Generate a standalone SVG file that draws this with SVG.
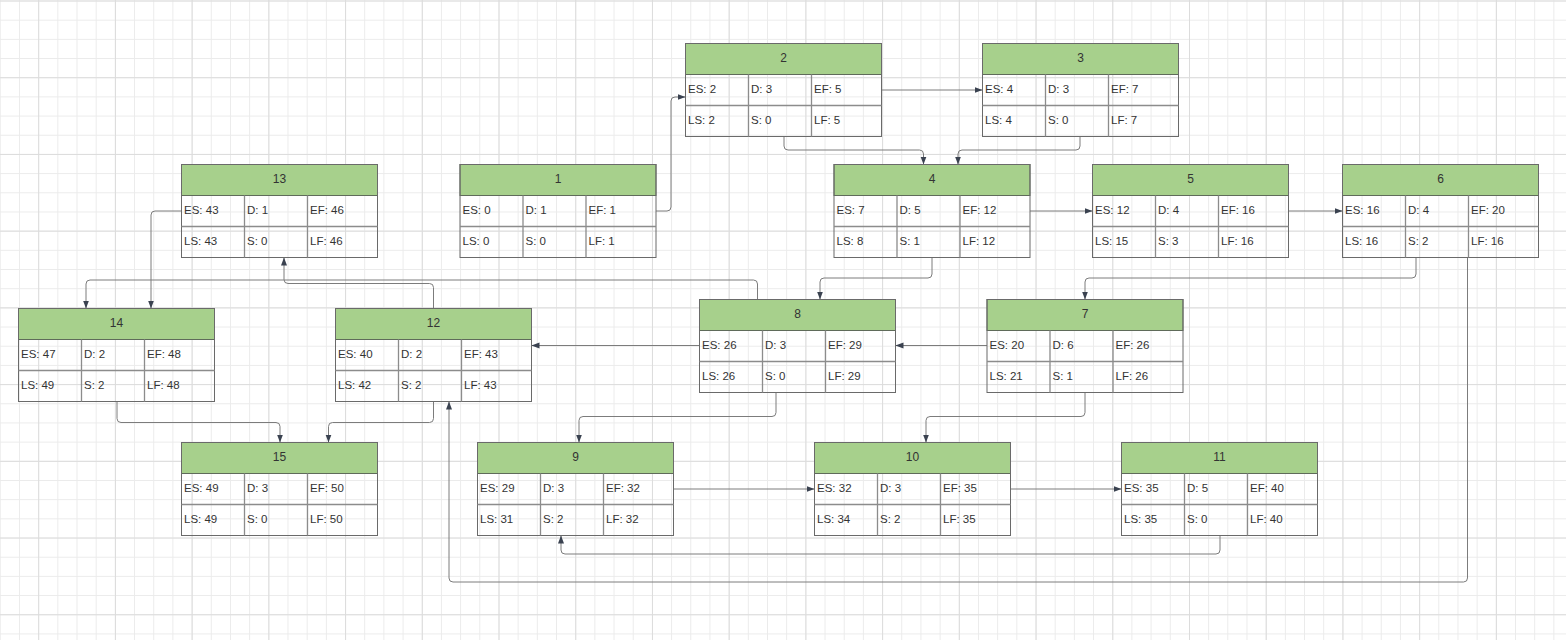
<svg xmlns="http://www.w3.org/2000/svg" width="1566" height="640" viewBox="0 0 1566 640">
<defs>
<pattern id="minor" width="19.18" height="19.18" patternUnits="userSpaceOnUse" x="-0.2" y="0.5">
<path d="M0,0.5 H19.18 M0.5,0 V19.18" fill="none" stroke="#ebebeb" stroke-width="1"/>
</pattern>
<pattern id="major" width="76.72" height="76.72" patternUnits="userSpaceOnUse" x="38.2" y="0.5">
<path d="M0,0.5 H76.72 M0.5,0 V76.72" fill="none" stroke="#dcdcdc" stroke-width="1"/>
</pattern>
<marker id="arr" markerUnits="userSpaceOnUse" markerWidth="8" markerHeight="7" refX="8" refY="3.5" orient="auto">
<path d="M0,0.5 L8,3.5 L0,6.5 z" fill="#3a4250"/>
</marker>
<style>
.hd{fill:#a7d08c;stroke:#5f6b5a;stroke-width:1}
.bd{fill:none;stroke:#6a6a6a;stroke-width:1}
.dv{stroke:#8c8c8c;stroke-width:1.3;fill:none}
.t{font-family:"Liberation Sans",Arial,sans-serif;font-size:11.5px;fill:#333333}
.h{font-family:"Liberation Sans",Arial,sans-serif;font-size:12px;fill:#333333;text-anchor:middle}
.c{fill:none;stroke:#7c7c7c;stroke-width:1}
.ca{fill:none;stroke:#7c7c7c;stroke-width:1;marker-end:url(#arr)}
</style>
</defs>
<rect width="1566" height="640" fill="#ffffff"/>
<rect width="1566" height="640" fill="url(#minor)"/>
<rect width="1566" height="640" fill="url(#major)"/>

<g id="connectors">
<path class="ca" d="M656,211 H667 Q671,211 671,207 V101 Q671,97 675,97 H685.5"/>
<path class="ca" d="M882,90 H982.5"/>
<path class="ca" d="M784,136.5 V146 Q784,150 788,150 H919.5 Q923.5,150 923.5,154 V164.5"/>
<path class="ca" d="M1080,136.5 V146 Q1080,150 1076,150 H962 Q958,150 958,154 V164.5"/>
<path class="ca" d="M1030,211 H1092.5"/>
<path class="ca" d="M1288.5,211 H1342.5"/>
<path class="ca" d="M932,257.5 V274 Q932,278 928,278 H824 Q820,278 820,282 V299.5"/>
<path class="ca" d="M1416,257.5 V274 Q1416,278 1412,278 H1089 Q1085,278 1085,282 V299.5"/>
<path class="ca" d="M1467.5,257.5 V578 Q1467.5,582 1463.5,582 H453 Q449,582 449,578 V401.5"/>
<path class="ca" d="M987,345.5 H895.5"/>
<path class="ca" d="M699.5,345.5 H531.5"/>
<path class="ca" d="M757.5,299.5 V284 Q757.5,280 753.5,280 H90 Q86,280 86,284 V308.5"/>
<path class="ca" d="M433.5,308.5 V287.5 Q433.5,283.5 429.5,283.5 H288 Q284,283.5 284,279.5 V257.5"/>
<path class="ca" d="M181.5,211 H155 Q151,211 151,215 V308.5"/>
<path class="ca" d="M117,401.5 V418.5 Q117,422.5 121,422.5 H276 Q280,422.5 280,426.5 V442.5"/>
<path class="ca" d="M433.5,401.5 V418.5 Q433.5,422.5 429.5,422.5 H332.5 Q328.5,422.5 328.5,426.5 V442.5"/>
<path class="ca" d="M776,392.5 V412.5 Q776,416.5 772,416.5 H583 Q579,416.5 579,420.5 V442.5"/>
<path class="ca" d="M1085,392.5 V412.5 Q1085,416.5 1081,416.5 H930 Q926,416.5 926,420.5 V442.5"/>
<path class="ca" d="M673.5,489 H814.5"/>
<path class="ca" d="M1010.5,489 H1121.5"/>
<path class="ca" d="M1220,535.5 V550 Q1220,554 1216,554 H565 Q561,554 561,550 V535.5"/>
</g>

<g id="node-1" transform="translate(460,164.5)">
<rect class="hd" width="196" height="31"/><rect class="bd" width="196" height="93"/>
<path class="dv" d="M0,62 H196 M63,31 V93 M126,31 V93"/>
<text class="h" x="98" y="18.5">1</text>
<text class="t" x="2.5" y="49.5">ES: 0</text><text class="t" x="65.5" y="49.5">D: 1</text><text class="t" x="128.5" y="49.5">EF: 1</text>
<text class="t" x="2.5" y="80.5">LS: 0</text><text class="t" x="65.5" y="80.5">S: 0</text><text class="t" x="128.5" y="80.5">LF: 1</text>
</g>
<g id="node-2" transform="translate(685.5,43.5)">
<rect class="hd" width="196" height="31"/><rect class="bd" width="196" height="93"/>
<path class="dv" d="M0,62 H196 M63,31 V93 M126,31 V93"/>
<text class="h" x="98" y="18.5">2</text>
<text class="t" x="2.5" y="49.5">ES: 2</text><text class="t" x="65.5" y="49.5">D: 3</text><text class="t" x="128.5" y="49.5">EF: 5</text>
<text class="t" x="2.5" y="80.5">LS: 2</text><text class="t" x="65.5" y="80.5">S: 0</text><text class="t" x="128.5" y="80.5">LF: 5</text>
</g>
<g id="node-3" transform="translate(982.5,43.5)">
<rect class="hd" width="196" height="31"/><rect class="bd" width="196" height="93"/>
<path class="dv" d="M0,62 H196 M63,31 V93 M126,31 V93"/>
<text class="h" x="98" y="18.5">3</text>
<text class="t" x="2.5" y="49.5">ES: 4</text><text class="t" x="65.5" y="49.5">D: 3</text><text class="t" x="128.5" y="49.5">EF: 7</text>
<text class="t" x="2.5" y="80.5">LS: 4</text><text class="t" x="65.5" y="80.5">S: 0</text><text class="t" x="128.5" y="80.5">LF: 7</text>
</g>
<g id="node-4" transform="translate(834,164.5)">
<rect class="hd" width="196" height="31"/><rect class="bd" width="196" height="93"/>
<path class="dv" d="M0,62 H196 M63,31 V93 M126,31 V93"/>
<text class="h" x="98" y="18.5">4</text>
<text class="t" x="2.5" y="49.5">ES: 7</text><text class="t" x="65.5" y="49.5">D: 5</text><text class="t" x="128.5" y="49.5">EF: 12</text>
<text class="t" x="2.5" y="80.5">LS: 8</text><text class="t" x="65.5" y="80.5">S: 1</text><text class="t" x="128.5" y="80.5">LF: 12</text>
</g>
<g id="node-5" transform="translate(1092.5,164.5)">
<rect class="hd" width="196" height="31"/><rect class="bd" width="196" height="93"/>
<path class="dv" d="M0,62 H196 M63,31 V93 M126,31 V93"/>
<text class="h" x="98" y="18.5">5</text>
<text class="t" x="2.5" y="49.5">ES: 12</text><text class="t" x="65.5" y="49.5">D: 4</text><text class="t" x="128.5" y="49.5">EF: 16</text>
<text class="t" x="2.5" y="80.5">LS: 15</text><text class="t" x="65.5" y="80.5">S: 3</text><text class="t" x="128.5" y="80.5">LF: 16</text>
</g>
<g id="node-6" transform="translate(1342.5,164.5)">
<rect class="hd" width="196" height="31"/><rect class="bd" width="196" height="93"/>
<path class="dv" d="M0,62 H196 M63,31 V93 M126,31 V93"/>
<text class="h" x="98" y="18.5">6</text>
<text class="t" x="2.5" y="49.5">ES: 16</text><text class="t" x="65.5" y="49.5">D: 4</text><text class="t" x="128.5" y="49.5">EF: 20</text>
<text class="t" x="2.5" y="80.5">LS: 16</text><text class="t" x="65.5" y="80.5">S: 2</text><text class="t" x="128.5" y="80.5">LF: 16</text>
</g>
<g id="node-7" transform="translate(987,299.5)">
<rect class="hd" width="196" height="31"/><rect class="bd" width="196" height="93"/>
<path class="dv" d="M0,62 H196 M63,31 V93 M126,31 V93"/>
<text class="h" x="98" y="18.5">7</text>
<text class="t" x="2.5" y="49.5">ES: 20</text><text class="t" x="65.5" y="49.5">D: 6</text><text class="t" x="128.5" y="49.5">EF: 26</text>
<text class="t" x="2.5" y="80.5">LS: 21</text><text class="t" x="65.5" y="80.5">S: 1</text><text class="t" x="128.5" y="80.5">LF: 26</text>
</g>
<g id="node-8" transform="translate(699.5,299.5)">
<rect class="hd" width="196" height="31"/><rect class="bd" width="196" height="93"/>
<path class="dv" d="M0,62 H196 M63,31 V93 M126,31 V93"/>
<text class="h" x="98" y="18.5">8</text>
<text class="t" x="2.5" y="49.5">ES: 26</text><text class="t" x="65.5" y="49.5">D: 3</text><text class="t" x="128.5" y="49.5">EF: 29</text>
<text class="t" x="2.5" y="80.5">LS: 26</text><text class="t" x="65.5" y="80.5">S: 0</text><text class="t" x="128.5" y="80.5">LF: 29</text>
</g>
<g id="node-9" transform="translate(477.5,442.5)">
<rect class="hd" width="196" height="31"/><rect class="bd" width="196" height="93"/>
<path class="dv" d="M0,62 H196 M63,31 V93 M126,31 V93"/>
<text class="h" x="98" y="18.5">9</text>
<text class="t" x="2.5" y="49.5">ES: 29</text><text class="t" x="65.5" y="49.5">D: 3</text><text class="t" x="128.5" y="49.5">EF: 32</text>
<text class="t" x="2.5" y="80.5">LS: 31</text><text class="t" x="65.5" y="80.5">S: 2</text><text class="t" x="128.5" y="80.5">LF: 32</text>
</g>
<g id="node-10" transform="translate(814.5,442.5)">
<rect class="hd" width="196" height="31"/><rect class="bd" width="196" height="93"/>
<path class="dv" d="M0,62 H196 M63,31 V93 M126,31 V93"/>
<text class="h" x="98" y="18.5">10</text>
<text class="t" x="2.5" y="49.5">ES: 32</text><text class="t" x="65.5" y="49.5">D: 3</text><text class="t" x="128.5" y="49.5">EF: 35</text>
<text class="t" x="2.5" y="80.5">LS: 34</text><text class="t" x="65.5" y="80.5">S: 2</text><text class="t" x="128.5" y="80.5">LF: 35</text>
</g>
<g id="node-11" transform="translate(1121.5,442.5)">
<rect class="hd" width="196" height="31"/><rect class="bd" width="196" height="93"/>
<path class="dv" d="M0,62 H196 M63,31 V93 M126,31 V93"/>
<text class="h" x="98" y="18.5">11</text>
<text class="t" x="2.5" y="49.5">ES: 35</text><text class="t" x="65.5" y="49.5">D: 5</text><text class="t" x="128.5" y="49.5">EF: 40</text>
<text class="t" x="2.5" y="80.5">LS: 35</text><text class="t" x="65.5" y="80.5">S: 0</text><text class="t" x="128.5" y="80.5">LF: 40</text>
</g>
<g id="node-12" transform="translate(335.5,308.5)">
<rect class="hd" width="196" height="31"/><rect class="bd" width="196" height="93"/>
<path class="dv" d="M0,62 H196 M63,31 V93 M126,31 V93"/>
<text class="h" x="98" y="18.5">12</text>
<text class="t" x="2.5" y="49.5">ES: 40</text><text class="t" x="65.5" y="49.5">D: 2</text><text class="t" x="128.5" y="49.5">EF: 43</text>
<text class="t" x="2.5" y="80.5">LS: 42</text><text class="t" x="65.5" y="80.5">S: 2</text><text class="t" x="128.5" y="80.5">LF: 43</text>
</g>
<g id="node-13" transform="translate(181.5,164.5)">
<rect class="hd" width="196" height="31"/><rect class="bd" width="196" height="93"/>
<path class="dv" d="M0,62 H196 M63,31 V93 M126,31 V93"/>
<text class="h" x="98" y="18.5">13</text>
<text class="t" x="2.5" y="49.5">ES: 43</text><text class="t" x="65.5" y="49.5">D: 1</text><text class="t" x="128.5" y="49.5">EF: 46</text>
<text class="t" x="2.5" y="80.5">LS: 43</text><text class="t" x="65.5" y="80.5">S: 0</text><text class="t" x="128.5" y="80.5">LF: 46</text>
</g>
<g id="node-14" transform="translate(18.5,308.5)">
<rect class="hd" width="196" height="31"/><rect class="bd" width="196" height="93"/>
<path class="dv" d="M0,62 H196 M63,31 V93 M126,31 V93"/>
<text class="h" x="98" y="18.5">14</text>
<text class="t" x="2.5" y="49.5">ES: 47</text><text class="t" x="65.5" y="49.5">D: 2</text><text class="t" x="128.5" y="49.5">EF: 48</text>
<text class="t" x="2.5" y="80.5">LS: 49</text><text class="t" x="65.5" y="80.5">S: 2</text><text class="t" x="128.5" y="80.5">LF: 48</text>
</g>
<g id="node-15" transform="translate(181.5,442.5)">
<rect class="hd" width="196" height="31"/><rect class="bd" width="196" height="93"/>
<path class="dv" d="M0,62 H196 M63,31 V93 M126,31 V93"/>
<text class="h" x="98" y="18.5">15</text>
<text class="t" x="2.5" y="49.5">ES: 49</text><text class="t" x="65.5" y="49.5">D: 3</text><text class="t" x="128.5" y="49.5">EF: 50</text>
<text class="t" x="2.5" y="80.5">LS: 49</text><text class="t" x="65.5" y="80.5">S: 0</text><text class="t" x="128.5" y="80.5">LF: 50</text>
</g>
</svg>
